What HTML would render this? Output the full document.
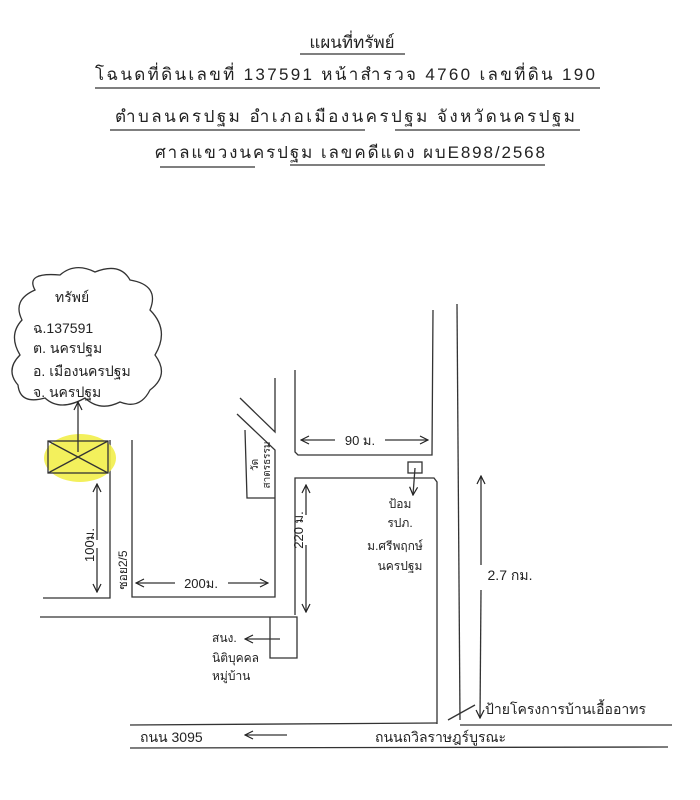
<!DOCTYPE html>
<html><head><meta charset="utf-8"><style>
html,body{margin:0;padding:0;background:#fff}
svg{display:block}
text{font-family:"Liberation Sans","Noto Sans CJK SC",sans-serif;fill:#222}
</style></head><body>
<svg width="700" height="800" viewBox="0 0 700 800" xmlns="http://www.w3.org/2000/svg">
<defs>
<marker id="a" markerWidth="10" markerHeight="10" refX="9" refY="5" orient="auto" markerUnits="userSpaceOnUse">
<path d="M1,1 L9,5 L1,9" fill="none" stroke="#222" stroke-width="1.2"/></marker>
</defs>
<g stroke="#333" stroke-width="1.3" fill="none">
<!-- header underlines -->
<line x1="300" y1="54" x2="405" y2="54"/>
<line x1="95" y1="88" x2="600" y2="88"/>
<line x1="110" y1="130" x2="365" y2="130"/><line x1="395" y1="130" x2="580" y2="130"/>
<line x1="160" y1="167" x2="255" y2="167"/><line x1="290" y1="165" x2="545" y2="165"/>
<!-- cloud -->
<path d="M35,290 Q25,272 60,275 Q75,262 95,272 Q120,262 130,280 Q160,285 150,310 Q170,330 155,355 Q170,375 150,390 Q140,410 120,402 Q100,412 85,398 Q60,412 45,398 Q20,405 18,385 Q5,370 20,355 Q8,335 22,320 Q12,300 35,290 Z"/>
<!-- roads -->
<polyline points="43,598 110,598 110,440"/>
<polyline points="132,440 132,597 275,597 275,450 237,414"/>
<polyline points="240,398 275,432 275,378"/>
<polyline points="245,430 247,498 275,498"/>
<polyline points="295,370 295,452 298,455 432,455 433,310"/>
<polyline points="295,615 295,478 434,478 437,482 437,724"/>
<polyline points="40,617 297,617 297,658 270,658 270,617"/>
<line x1="130" y1="725" x2="437" y2="723"/>
<line x1="460" y1="725" x2="672" y2="725"/>
<line x1="130" y1="748" x2="668" y2="747"/>
<line x1="457" y1="304" x2="460" y2="720"/>
<line x1="448" y1="720" x2="475" y2="705"/>
</g>
<!-- property box -->
<ellipse cx="80" cy="458" rx="36" ry="24" fill="#f2ee4a" opacity="0.9"/>
<g stroke="#333" stroke-width="1.3" fill="none">
<rect x="48" y="441" width="60" height="32"/>
<line x1="48" y1="441" x2="108" y2="473"/><line x1="48" y1="473" x2="108" y2="441"/>
<line x1="78" y1="452" x2="78" y2="402" marker-end="url(#a)"/>
<line x1="97" y1="540" x2="97" y2="484" marker-end="url(#a)"/>
<line x1="97" y1="548" x2="97" y2="592" marker-end="url(#a)"/>
<line x1="175" y1="583" x2="136" y2="583" marker-end="url(#a)"/>
<line x1="228" y1="583" x2="268" y2="583" marker-end="url(#a)"/>
<line x1="306" y1="515" x2="306" y2="485" marker-end="url(#a)"/>
<line x1="306" y1="545" x2="306" y2="612" marker-end="url(#a)"/>
<line x1="335" y1="440" x2="301" y2="440" marker-end="url(#a)"/>
<line x1="385" y1="440" x2="428" y2="440" marker-end="url(#a)"/>
<rect x="408" y="462" width="14" height="11"/>
<line x1="415" y1="468" x2="413" y2="495" marker-end="url(#a)"/>
<line x1="481" y1="565" x2="481" y2="476" marker-end="url(#a)"/>
<line x1="481" y1="590" x2="480" y2="718" marker-end="url(#a)"/>
<line x1="280" y1="639" x2="245" y2="639" marker-end="url(#a)"/>
<line x1="287" y1="735" x2="245" y2="735" marker-end="url(#a)"/>
</g>
<!-- header text -->
<text x="352" y="48" font-size="17" text-anchor="middle">แผนที่ทรัพย์</text>
<text x="345" y="80" font-size="17" text-anchor="middle" textLength="500">โฉนดที่ดินเลขที่ 137591  หน้าสำรวจ 4760  เลขที่ดิน 190</text>
<text x="345" y="122" font-size="17" text-anchor="middle" textLength="460">ตำบลนครปฐม  อำเภอเมืองนครปฐม  จังหวัดนครปฐม</text>
<text x="350" y="158" font-size="17" text-anchor="middle" textLength="390">ศาลแขวงนครปฐม  เลขคดีแดง ผบE898/2568</text>
<!-- cloud text -->
<text x="55" y="302" font-size="14">ทรัพย์</text>
<text x="33" y="333" font-size="14">ฉ.137591</text>
<text x="33" y="353" font-size="14">ต. นครปฐม</text>
<text x="33" y="376" font-size="14">อ. เมืองนครปฐม</text>
<text x="33" y="397" font-size="14">จ. นครปฐม</text>
<!-- labels -->
<text transform="translate(94,545) rotate(-90)" font-size="13" text-anchor="middle">100ม.</text>
<text transform="translate(127,570) rotate(-90)" font-size="12" text-anchor="middle">ซอย2/5</text>
<text x="201" y="588" font-size="13" text-anchor="middle">200ม.</text>
<text transform="translate(303,530) rotate(-90)" font-size="13" text-anchor="middle">220 ม.</text>
<text x="360" y="445" font-size="13" text-anchor="middle">90 ม.</text>
<text transform="translate(258,465) rotate(-90)" font-size="10" text-anchor="middle">วัด</text>
<text transform="translate(270,465) rotate(-90)" font-size="10" text-anchor="middle">สาตรธรรม</text>
<text x="400" y="508" font-size="12" text-anchor="middle">ป้อม</text>
<text x="400" y="527" font-size="12" text-anchor="middle">รปภ.</text>
<text x="395" y="550" font-size="12" text-anchor="middle">ม.ศรีพฤกษ์</text>
<text x="400" y="570" font-size="12" text-anchor="middle">นครปฐม</text>
<text x="510" y="580" font-size="14" text-anchor="middle">2.7 กม.</text>
<text x="212" y="642" font-size="12">สนง.</text>
<text x="212" y="662" font-size="12">นิติบุคคล</text>
<text x="212" y="680" font-size="12">หมู่บ้าน</text>
<text x="485" y="714" font-size="14">ป้ายโครงการบ้านเอื้ออาทร</text>
<text x="140" y="742" font-size="14">ถนน 3095</text>
<text x="375" y="742" font-size="14">ถนนถวิลราษฎร์บูรณะ</text>
</svg>
</body></html>
